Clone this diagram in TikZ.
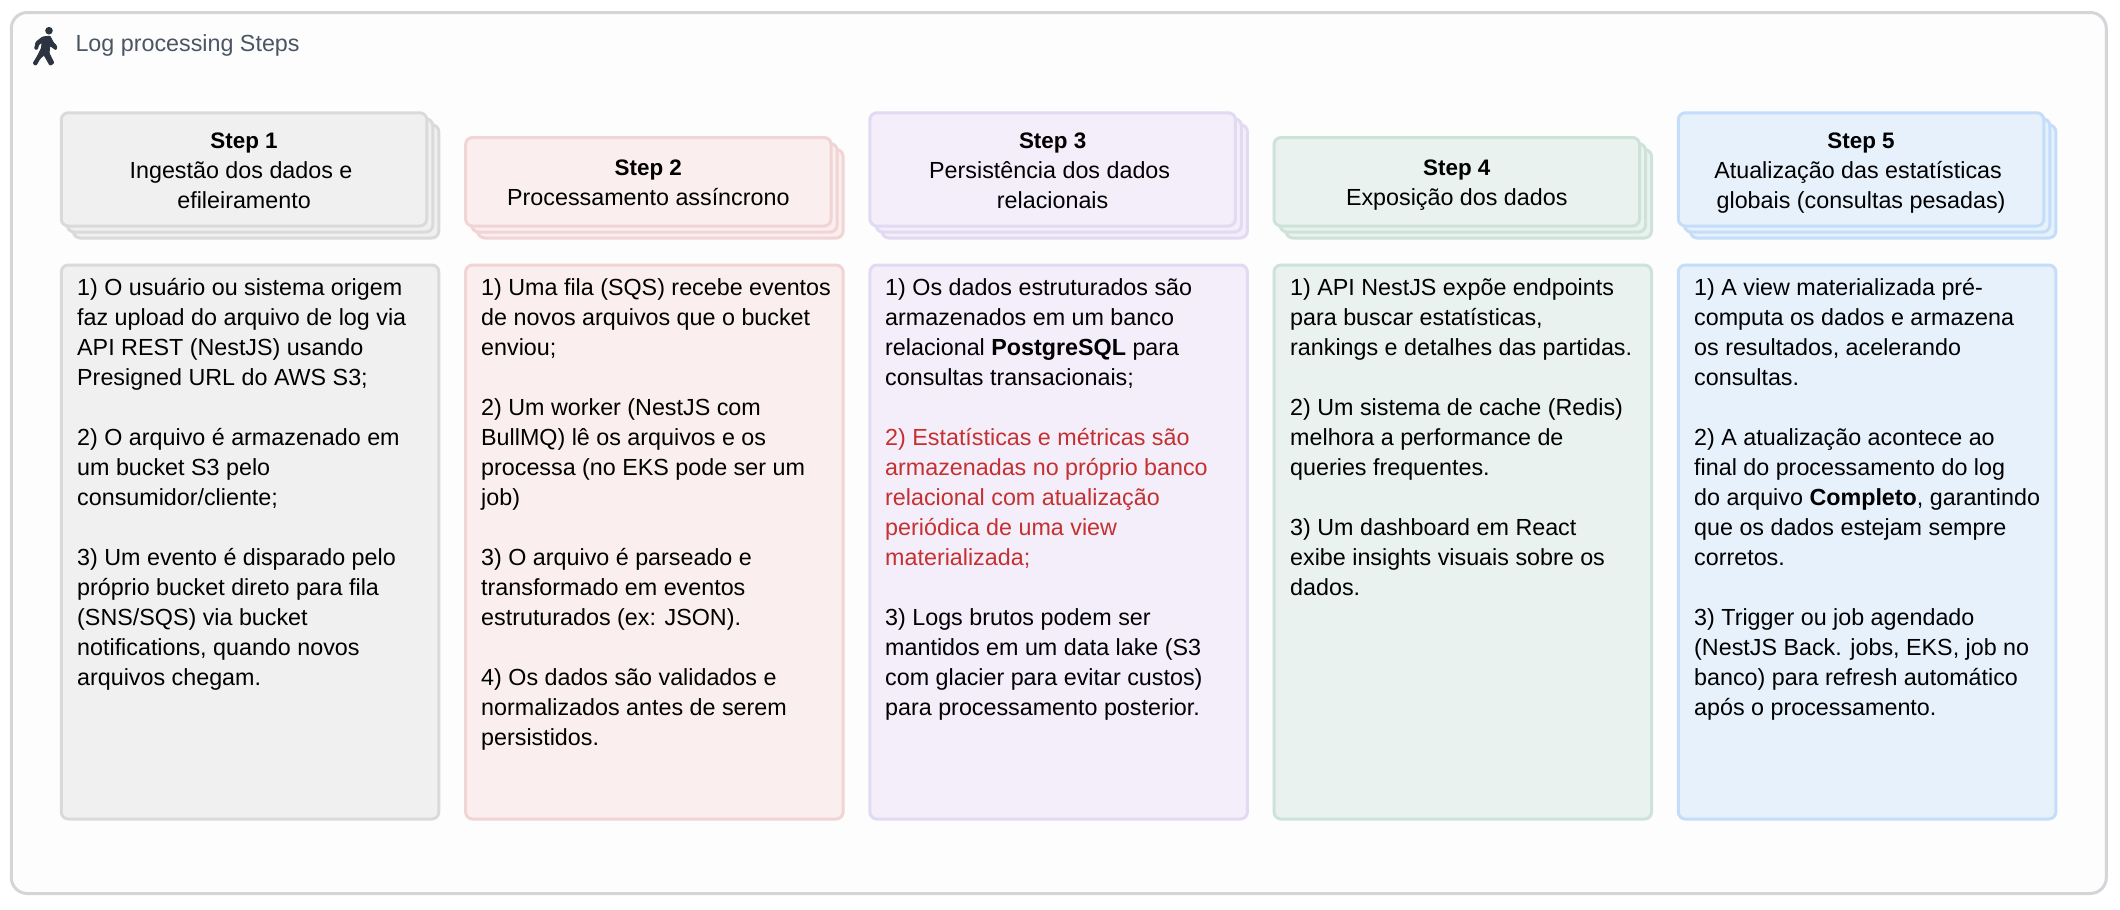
\documentclass[tikz,border=0pt]{standalone}
\usepackage{fontspec}
\setmainfont{Liberation Sans}
\usetikzlibrary{positioning,shadows}
\definecolor{panelline}{HTML}{D4D5D9}
\definecolor{panelfill}{HTML}{FDFDFD}
\definecolor{titlegray}{HTML}{4B5563}
\definecolor{icondark}{HTML}{2B3440}
\definecolor{alertred}{HTML}{C53030}
\definecolor{grayfill}{HTML}{F0F0F0}
\definecolor{grayline}{HTML}{DADADA}
\definecolor{pinkfill}{HTML}{FAEEEE}
\definecolor{pinkline}{HTML}{F2D4D4}
\definecolor{lilacfill}{HTML}{F3EEFA}
\definecolor{lilacline}{HTML}{E2D9F2}
\definecolor{greenfill}{HTML}{E9F2EE}
\definecolor{greenline}{HTML}{CDE3D8}
\definecolor{bluefill}{HTML}{E6F1FC}
\definecolor{blueline}{HTML}{C4DDF9}
\tikzset{
  tint/.style={fill=#1fill,draw=#1line},
  stephead/.style={tint=#1,line width=3pt,rounded corners=7pt,anchor=north west,
    minimum width=365.5pt,align=center,inner sep=0pt,
    font=\fontsize{23.3}{30}\selectfont,
    double copy shadow={shadow xshift=6pt,shadow yshift=-6pt,fill=#1fill,draw=#1line,line width=3pt}},
  stepbody/.style={tint=#1,line width=3pt,rounded corners=7pt,anchor=north west,
    minimum width=377.5pt,minimum height=554pt,inner sep=0pt},
  steptext/.style={anchor=north west,inner sep=0pt}
}
\newcommand{\bodytext}[1]{\parbox[t]{360pt}{\fontsize{23.3}{30}\selectfont #1}}
\newcommand{\steplabel}[1]{\rule{0pt}{26.4pt}{\fontsize{22.4}{30}\selectfont\textbf{Step #1}}}
\begin{document}
\begin{tikzpicture}[x=1pt,y=-1pt,every node/.style={text=black}]
  \useasboundingbox (0,0) rectangle (2120,910);
  \draw[panelline,fill=panelfill,line width=3pt,rounded corners=16pt] (11.3,12.5) rectangle (2106.3,893.5);
  % walking figure
  \fill[icondark] (49,30.7) circle (3.8);
  \filldraw[icondark,line width=0.8pt,line join=round,rounded corners=1pt] (34.5,49) -- (36,42) -- (42.5,37) -- (50,36) -- (53,42) -- (57,46.5) -- (56,50) -- (50,45.5) -- (49,53) -- (54,63) -- (50,65.5) -- (44,55) -- (40,58.5) -- (36,65.5) -- (33,63.5) -- (37.5,56) -- (41.5,48) -- (42,42) -- (38.5,45) -- (37.5,49.5) -- cycle;
  \node[anchor=west,text=titlegray,font=\fontsize{23.3}{26}\selectfont] (title) at (72,45.3) {Log processing Steps};

  \node[stephead=gray,minimum height=113.2pt] (head1) at (59.8,111.3) {\steplabel{1}\\Ingestão dos dados e\kern6pt\\efileiramento\strut};
  \node[stephead=pink,minimum height=88.5pt] (head2) at (464.1,136) {\steplabel{2}\\Processamento assíncrono\strut};
  \node[stephead=lilac,minimum height=113.2pt] (head3) at (868.4,111.3) {\steplabel{3}\\Persistência dos dados\kern6pt\\relacionais\strut};
  \node[stephead=green,minimum height=88.5pt] (head4) at (1272.5,136) {\steplabel{4}\\Exposição dos dados\strut};
  \node[stephead=blue,minimum height=113.2pt] (head5) at (1676.8,111.3) {\steplabel{5}\\Atualização das estatísticas\kern6pt\\globais (consultas pesadas)\strut};

  \node[stepbody=gray] (body1) at (59.8,263.5) {};
  \node[stepbody=pink] (body2) at (464.1,263.5) {};
  \node[stepbody=lilac] (body3) at (868.4,263.5) {};
  \node[stepbody=green] (body4) at (1272.5,263.5) {};
  \node[stepbody=blue] (body5) at (1676.8,263.5) {};

  \node[steptext] (text1) at (77,278.4) {\bodytext{1) O usuário ou sistema origem\\faz upload do arquivo de log via\\API REST (NestJS) usando\\Presigned URL do AWS S3;\\[30pt]2) O arquivo é armazenado em\\um bucket S3 pelo\\consumidor/cliente;\\[30pt]3) Um evento é disparado pelo\\próprio bucket direto para fila\\(SNS/SQS) via bucket\\notifications, quando novos\\arquivos chegam.}};
  \node[steptext] (text2) at (481,278.4) {\bodytext{1) Uma fila (SQS) recebe eventos\\de novos arquivos que o bucket\\enviou;\\[30pt]2) Um worker (NestJS com\\BullMQ) lê os arquivos e os\\processa (no EKS pode ser um\\job)\\[30pt]3) O arquivo é parseado e\\transformado em eventos\\estruturados (ex: JSON).\\[30pt]4) Os dados são validados e\\normalizados antes de serem\\persistidos.}};
  \node[steptext] (text3) at (885,278.4) {\bodytext{1) Os dados estruturados são\\armazenados em um banco\\relacional \textbf{PostgreSQL} para\\consultas transacionais;\\[30pt]\textcolor{alertred}{2) Estatísticas e métricas são}\\\textcolor{alertred}{armazenadas no próprio banco}\\\textcolor{alertred}{relacional com atualização}\\\textcolor{alertred}{periódica de uma view}\\\textcolor{alertred}{materializada;}\\[30pt]3) Logs brutos podem ser\\mantidos em um data lake (S3\\com glacier para evitar custos)\\para processamento posterior.}};
  \node[steptext] (text4) at (1290,278.4) {\bodytext{1) API NestJS expõe endpoints\\para buscar estatísticas,\\rankings e detalhes das partidas.\\[30pt]2) Um sistema de cache (Redis)\\melhora a performance de\\queries frequentes.\\[30pt]3) Um dashboard em React\\exibe insights visuais sobre os\\dados.}};
  \node[steptext] (text5) at (1694,278.4) {\bodytext{1) A view materializada pré-\\computa os dados e armazena\\os resultados, acelerando\\consultas.\\[30pt]2) A atualização acontece ao\\final do processamento do log\\do arquivo \textbf{Completo}, garantindo\\que os dados estejam sempre\\corretos.\\[30pt]3) Trigger ou job agendado\\(NestJS Back. jobs, EKS, job no\\banco) para refresh automático\\após o processamento.}};
\end{tikzpicture}
\end{document}
